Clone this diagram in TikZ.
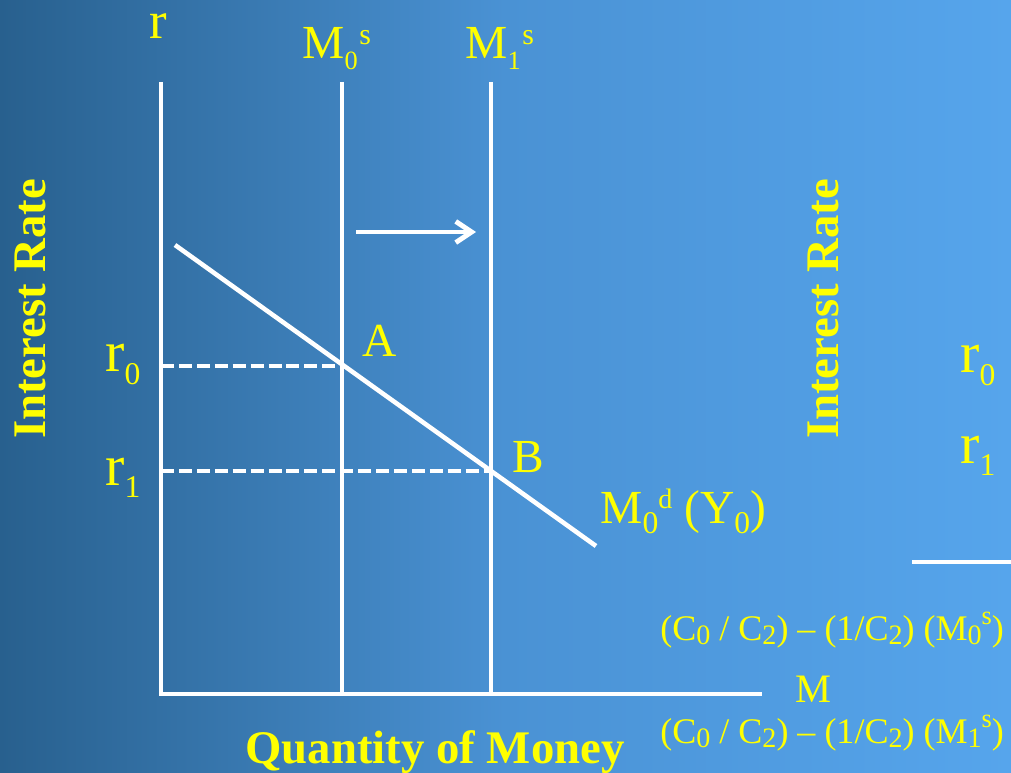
\documentclass[tikz,border=0pt]{standalone}
\usepackage{fontspec}
\setmainfont{Liberation Serif}
\usepackage{tikz}
\usetikzlibrary{arrows.meta, positioning}
\usepackage{xcolor}
\definecolor{bgdark}{RGB}{40,96,142}
\definecolor{bgmid}{RGB}{74,146,212}
\definecolor{bglight}{RGB}{86,165,236}
\definecolor{txtyellow}{RGB}{255,255,0}
\newcommand{\subtxt}[3]{\raisebox{-#1}{\fontsize{#2}{#2}\selectfont #3}}
\newcommand{\suptxt}[3]{\raisebox{#1}{\fontsize{#2}{#2}\selectfont #3}}

\begin{document}
\begin{tikzpicture}[
  x=0.02cm, y=-0.02cm,
  line/.style={draw=white, line width=2.3pt},
  guide/.style={draw=white, line width=2.3pt, dash pattern=on 7.4pt off 2.8pt},
  curve/.style={draw=white, line width=2.6pt},
  shiftarr/.style={-{Straight Barb[length=9pt, width=12pt]}, draw=white, line width=2.8pt},
  lbl/.style={text=txtyellow, inner sep=0pt, anchor=base west},
  axislbl/.style={text=txtyellow, inner sep=0pt, font=\bfseries\fontsize{26.6}{30}\selectfont}
]
% background
\shade[left color=bgdark, right color=bglight, middle color=bgmid] (0,0) rectangle (1011,773);
\useasboundingbox (0,0) rectangle (1011,773);

% axes and money supply lines
\coordinate (rtop) at (161,82);
\coordinate (O) at (161,696);
\coordinate (mend) at (762,694);
\coordinate (s0top) at (342,82);
\coordinate (s0bot) at (342,694);
\coordinate (s1top) at (491,82);
\coordinate (s1bot) at (491,694);
\draw[line] (rtop) -- (O);
\draw[line] (O |- mend) -- (mend);
\draw[line] (s0top) -- (s0bot);
\draw[line] (s1top) -- (s1bot);

% money demand
\coordinate (d0) at (175,245);
\coordinate (d1) at (596,546);
\coordinate (A) at (342,366);
\coordinate (B) at (491,471);
\draw[curve] (d0) -- (d1);
\draw[guide] (O |- A) -- (A);
\draw[guide] (O |- B) -- (B);

% shift of supply
\coordinate (shiftL) at (356,232);
\coordinate (shiftR) at (476,232);
\draw[shiftarr] (shiftL) -- (shiftR);

% labels
\node[lbl, anchor=base, font=\fontsize{30}{32}\selectfont] (rlab) at (158,39) {r};
\node[lbl, font=\fontsize{27}{30}\selectfont] (s0lab) at (302,59) {M\subtxt{6pt}{15}{0}\kern1pt\suptxt{8pt}{17}{s}};
\node[lbl, font=\fontsize{27}{30}\selectfont] (s1lab) at (465,59) {M\subtxt{6pt}{15}{1}\kern1pt\suptxt{8pt}{17}{s}};
\node[lbl, font=\fontsize{27}{30}\selectfont] (alab) at (362,357) {A};
\node[lbl, font=\fontsize{27}{30}\selectfont] (blab) at (512,473) {B};
\node[lbl, font=\fontsize{33}{36}\selectfont] (r0lab) at (105,372) {r\subtxt{7pt}{18}{0}};
\node[lbl, font=\fontsize{33}{36}\selectfont] (r1lab) at (105,485) {r\subtxt{7pt}{18}{1}};
\node[lbl, font=\fontsize{27}{30}\selectfont] (dlab) at (600,523)
  {M\subtxt{6pt}{18}{0}\suptxt{8.5pt}{16}{d} (Y\subtxt{6pt}{18}{0})};
\node[axislbl, rotate=90] (ratelab) at (30,309) {Interest Rate};
\node[axislbl, anchor=base] (qlab) at (435,763) {Quantity of Money};
\node[lbl, font=\fontsize{23}{26}\selectfont] (mlab) at (795,702) {M};
\node[lbl, font=\fontsize{20.5}{24}\selectfont] (f0lab) at (660,640)
  {(C\subtxt{2.5pt}{16}{0} / C\subtxt{2.5pt}{16}{2}) – (1/C\subtxt{2.5pt}{16}{2}) (M\subtxt{2.5pt}{16}{0}\suptxt{9pt}{15}{s})};
\node[lbl, font=\fontsize{20.5}{24}\selectfont] (f1lab) at (660,743)
  {(C\subtxt{2.5pt}{16}{0} / C\subtxt{2.5pt}{16}{2}) – (1/C\subtxt{2.5pt}{16}{2}) (M\subtxt{2.5pt}{16}{1}\suptxt{9pt}{15}{s})};

% second panel (cut off)
\node[axislbl, rotate=90] (rate2lab) at (823,309) {Interest Rate};
\node[lbl, font=\fontsize{33}{36}\selectfont] (r0lab2) at (960,373) {r\subtxt{7pt}{18}{0}};
\node[lbl, font=\fontsize{33}{36}\selectfont] (r1lab2) at (960,463) {r\subtxt{7pt}{18}{1}};
\coordinate (cut0) at (912,562);
\coordinate (cut1) at (1011,562);
\draw[line] (cut0) -- (cut1);
\end{tikzpicture}
\end{document}
